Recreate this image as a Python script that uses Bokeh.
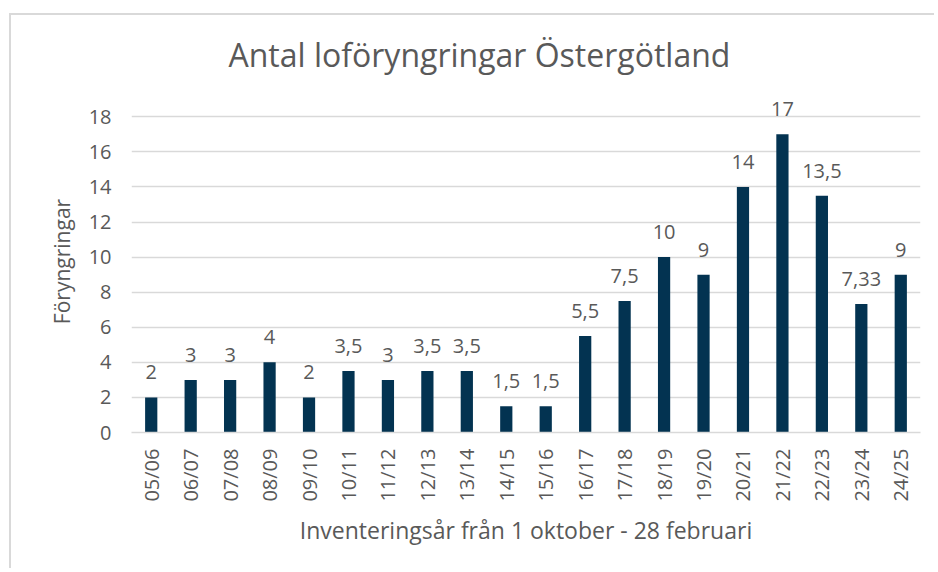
from bokeh.plotting import figure
from bokeh.models import ColumnDataSource, Range1d, LabelSet, FactorRange
from bokeh.core.properties import value
from bokeh.embed import file_html
from bokeh.resources import INLINE
import math

seasons = ["05/06", "06/07", "07/08", "08/09", "09/10", "10/11", "11/12", "12/13", "13/14", "14/15",
           "15/16", "16/17", "17/18", "18/19", "19/20", "20/21", "21/22", "22/23", "23/24", "24/25"]
counts = [2, 3, 3, 4, 2, 3.5, 3, 3.5, 3.5, 1.5, 1.5, 5.5, 7.5, 10, 9, 14, 17, 13.5, 7.33, 9]
y_ticks = [0, 2, 4, 6, 8, 10, 12, 14, 16, 18]

labels = [f"{v:g}".replace(".", ",") for v in counts]
src = ColumnDataSource(dict(x=seasons, y=counts, lab=labels))

FONT = "Open Sans"
GRAY = "#595959"

p = figure(width=925, height=555, x_range=FactorRange(*seasons), y_range=Range1d(0, 19.5),
           output_backend="svg", toolbar_location=None,
           min_border_left=120, min_border_right=16, min_border_top=72, min_border_bottom=138,
           title="Antal loföryngringar Östergötland")
p.margin = (13, 0, 0, 9)
p.styles = {"border-top": "2px solid #d9d9d9", "border-left": "2px solid #d9d9d9"}
p.x_range.range_padding = 0
p.outline_line_color = None
p.background_fill_color = "white"
p.border_fill_color = "white"

p.vbar(x="x", top="y", width=0.31, source=src, fill_color="#033351", line_color=None)

p.add_layout(LabelSet(x="x", y="y", text="lab", source=src, y_offset=18, text_align="center",
                      text_baseline="alphabetic", text_font=value(FONT), text_font_size="20px",
                      text_color=GRAY))

p.title.text_font = FONT
p.title.text_font_size = "32px"
p.title.text_font_style = "normal"
p.title.text_color = GRAY
p.title.align = "left"
p.title.offset = 92
p.title.standoff = 20
p.title.padding = 5

p.yaxis.ticker = y_ticks
p.ygrid.ticker = y_ticks
p.ygrid.grid_line_color = "#d9d9d9"
p.ygrid.grid_line_width = 1.5
p.xgrid.grid_line_color = None

for ax in (p.xaxis, p.yaxis):
    ax.major_tick_line_color = None
    ax.minor_tick_line_color = None
    ax.major_label_text_font = FONT
    ax.major_label_text_font_size = "20px"
    ax.major_label_text_color = GRAY
    ax.axis_label_text_font = FONT
    ax.axis_label_text_font_size = "21px"
    ax.axis_label_text_font_style = "normal"
    ax.axis_label_text_color = GRAY

p.yaxis.axis_line_color = None
p.yaxis.axis_label = "Föryngringar"
p.yaxis.major_label_standoff = 14
p.yaxis.axis_label_standoff = 10

p.xaxis.axis_line_color = "#d9d9d9"
p.xaxis.axis_line_width = 1.5
p.xaxis.axis_label = "Inventeringsår från 1 oktober - 28 februari"
p.xaxis.axis_label_text_font_size = "23px"
p.xaxis.major_label_orientation = math.pi / 2
p.xaxis.major_label_standoff = 10
p.xaxis.axis_label_standoff = 9

open("out.html", "w").write(file_html(p, INLINE))
